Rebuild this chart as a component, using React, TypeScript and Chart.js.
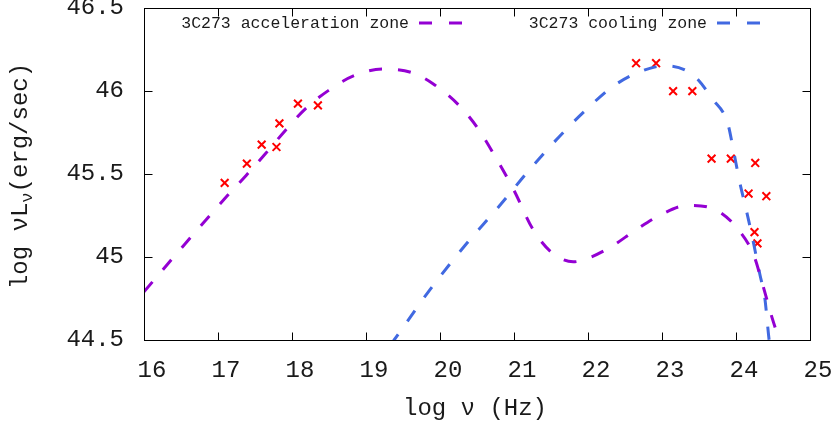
import React, { useEffect, useRef } from "react";
import { Chart, registerables } from "chart.js";
Chart.register(...registerables);

const accX = [16.0, 16.5, 17.11, 17.38, 17.64, 17.91, 18.18, 18.49, 18.84, 19.22, 19.61, 19.91, 20.26, 20.5, 20.75, 21.0, 21.25, 21.5, 21.8, 21.99, 22.31, 22.64, 22.97, 23.35, 23.74, 24.02, 24.24, 24.35, 24.47, 24.58, 24.7];
const accY = [44.79, 45.05, 45.36, 45.49, 45.62, 45.76, 45.89, 46.0, 46.09, 46.13, 46.11, 46.04, 45.91, 45.78, 45.6, 45.4, 45.17, 45.03, 44.97, 44.99, 45.06, 45.16, 45.25, 45.31, 45.28, 45.17, 45.01, 44.85, 44.66, 44.5, 44.3];

const coolX = [19.1, 19.38, 19.86, 20.34, 20.81, 21.22, 21.69, 22.01, 22.32, 22.68, 23.05, 23.43, 23.68, 23.89, 23.97, 24.05, 24.14, 24.22, 24.32, 24.39, 24.44, 24.5];
const coolY = [44.33, 44.5, 44.8, 45.07, 45.31, 45.53, 45.76, 45.9, 46.02, 46.11, 46.15, 46.09, 45.95, 45.8, 45.63, 45.45, 45.28, 45.12, 44.9, 44.75, 44.53, 44.3];

const obsX = [17.09, 17.39, 17.59, 17.79, 17.83, 18.08, 18.35, 22.65, 22.92, 23.15, 23.41, 23.67, 23.93, 24.26, 24.17, 24.41, 24.25, 24.29];
const obsY = [45.445, 45.561, 45.675, 45.661, 45.803, 45.922, 45.911, 46.165, 46.165, 45.997, 45.997, 45.591, 45.591, 45.565, 45.381, 45.365, 45.149, 45.081];

const xTicks = [16, 17, 18, 19, 20, 21, 22, 23, 24, 25];
const yTicks = [44.5, 45, 45.5, 46, 46.5];

const seriesNames = ["3C273 acceleration zone", "3C273 cooling zone"];
const seriesColors = ["#9400D3", "#4169E1"];
const xTitle = "log \u03bd (Hz)";
const yTitleParts = ["log \u03bdL", "\u03bd", "(erg/sec)"];

const MONO = "'Liberation Mono', 'Courier New', 'DejaVu Sans Mono', monospace";
const TEXT = "#1a1a1a";

const framePlugin = {
  id: "frame",
  afterDraw(chart: any) {
    const ctx = chart.ctx;
    const { left, right, top, bottom } = chart.chartArea;
    const xs = chart.scales.x;
    const ys = chart.scales.y;
    ctx.save();
    ctx.strokeStyle = "#000";
    ctx.lineWidth = 1;
    const L = Math.round(left) + 0.5;
    const R = Math.round(right) + 0.5;
    const T = Math.round(top) + 0.5;
    const B = Math.round(bottom) + 0.5;
    ctx.setLineDash([]);
    ctx.strokeRect(L, T, R - L, B - T);
    const tl = 8;
    ctx.beginPath();
    for (const v of xTicks) {
      const px = Math.round(xs.getPixelForValue(v)) + 0.5;
      ctx.moveTo(px, B);
      ctx.lineTo(px, B - tl);
      ctx.moveTo(px, T);
      ctx.lineTo(px, T + tl);
    }
    for (const v of yTicks) {
      const py = Math.round(ys.getPixelForValue(v)) + 0.5;
      ctx.moveTo(L, py);
      ctx.lineTo(L + tl, py);
      ctx.moveTo(R, py);
      ctx.lineTo(R - tl, py);
    }
    ctx.stroke();

    // legend
    ctx.fillStyle = TEXT;
    ctx.font = `16.5px ${MONO}`;
    ctx.textAlign = "right";
    ctx.textBaseline = "middle";
    const legendEnds = [409, 707];
    for (let i = 0; i < 2; i++) {
      const ex = legendEnds[i];
      ctx.fillText(seriesNames[i], ex, 24);
      ctx.strokeStyle = seriesColors[i];
      ctx.lineWidth = 3;
      ctx.setLineDash([13, 17]);
      ctx.beginPath();
      ctx.moveTo(ex + 10, 23);
      ctx.lineTo(ex + 53, 23);
      ctx.stroke();
    }
    ctx.setLineDash([]);

    // x title
    ctx.fillStyle = TEXT;
    ctx.font = `24px ${MONO}`;
    ctx.textAlign = "center";
    ctx.textBaseline = "middle";
    ctx.fillText(xTitle, 475, 409);

    // y title with subscript
    ctx.save();
    ctx.translate(21, 176);
    ctx.rotate(-Math.PI / 2);
    const bigFont = `24px ${MONO}`;
    const subFont = `17px ${MONO}`;
    ctx.font = bigFont;
    const w0 = ctx.measureText(yTitleParts[0]).width;
    const w2 = ctx.measureText(yTitleParts[2]).width;
    ctx.font = subFont;
    const w1 = ctx.measureText(yTitleParts[1]).width;
    let x0 = -(w0 + w1 + w2) / 2;
    ctx.textAlign = "left";
    ctx.textBaseline = "middle";
    ctx.font = bigFont;
    ctx.fillText(yTitleParts[0], x0, 0);
    x0 += w0;
    ctx.font = subFont;
    ctx.fillText(yTitleParts[1], x0, 6);
    x0 += w1;
    ctx.font = bigFont;
    ctx.fillText(yTitleParts[2], x0, 0);
    ctx.restore();

    ctx.restore();
  },
};

export default function App() {
  const ref = useRef<HTMLCanvasElement | null>(null);
  useEffect(() => {
    document.body.style.margin = "0";
    const canvas = ref.current;
    if (!canvas) return;
    const toPts = (xs: number[], ys: number[]) => xs.map((x, i) => ({ x, y: ys[i] }));
    const chart = new Chart(canvas, {
      type: "scatter",
      data: {
        datasets: [
          {
            label: seriesNames[0],
            data: toPts(accX, accY),
            showLine: true,
            borderColor: seriesColors[0],
            borderWidth: 3,
            borderDash: [13, 16],
            pointRadius: 0,
            cubicInterpolationMode: "monotone",
            fill: false,
          },
          {
            label: seriesNames[1],
            data: toPts(coolX, coolY),
            showLine: true,
            borderColor: seriesColors[1],
            borderWidth: 3,
            borderDash: [13, 16],
            pointRadius: 0,
            cubicInterpolationMode: "monotone",
            fill: false,
          },
          {
            label: "data",
            data: toPts(obsX, obsY),
            showLine: false,
            pointStyle: "crossRot",
            pointRadius: 5.5,
            borderColor: "#FF0000",
            backgroundColor: "#FF0000",
            borderWidth: 2,
          },
        ],
      } as any,
      options: {
        responsive: false,
        animation: false,
        devicePixelRatio: 1,
        layout: { padding: { top: 7, right: 25, left: 0, bottom: 0 } },
        plugins: { legend: { display: false }, tooltip: { enabled: false } },
        scales: {
          x: {
            type: "linear",
            min: 16,
            max: 25,
            grid: { display: false },
            border: { display: false },
            ticks: {
              stepSize: 1,
              color: TEXT,
              font: { family: MONO, size: 24 },
              padding: 8,
              labelOffset: 8,
              maxRotation: 0,
              callback: (v: any) => String(v),
            },
            afterFit: (s: any) => {
              s.height = 88;
              s.paddingLeft = 0;
              s.paddingRight = 0;
            },
          },
          y: {
            type: "linear",
            min: 44.5,
            max: 46.5,
            grid: { display: false },
            border: { display: false },
            ticks: {
              stepSize: 0.5,
              color: TEXT,
              font: { family: MONO, size: 24 },
              padding: 12,
              callback: (v: any) => String(v),
            },
            afterFit: (s: any) => {
              s.width = 144;
              s.paddingTop = 0;
              s.paddingBottom = 0;
            },
          },
        },
      } as any,
      plugins: [framePlugin],
    });
    return () => chart.destroy();
  }, []);
  return (
    <div style={{ position: "absolute", left: 0, top: 0, width: 835, height: 428, background: "#fff" }}>
      <canvas ref={ref} width={835} height={428} style={{ display: "block" }} />
    </div>
  );
}
